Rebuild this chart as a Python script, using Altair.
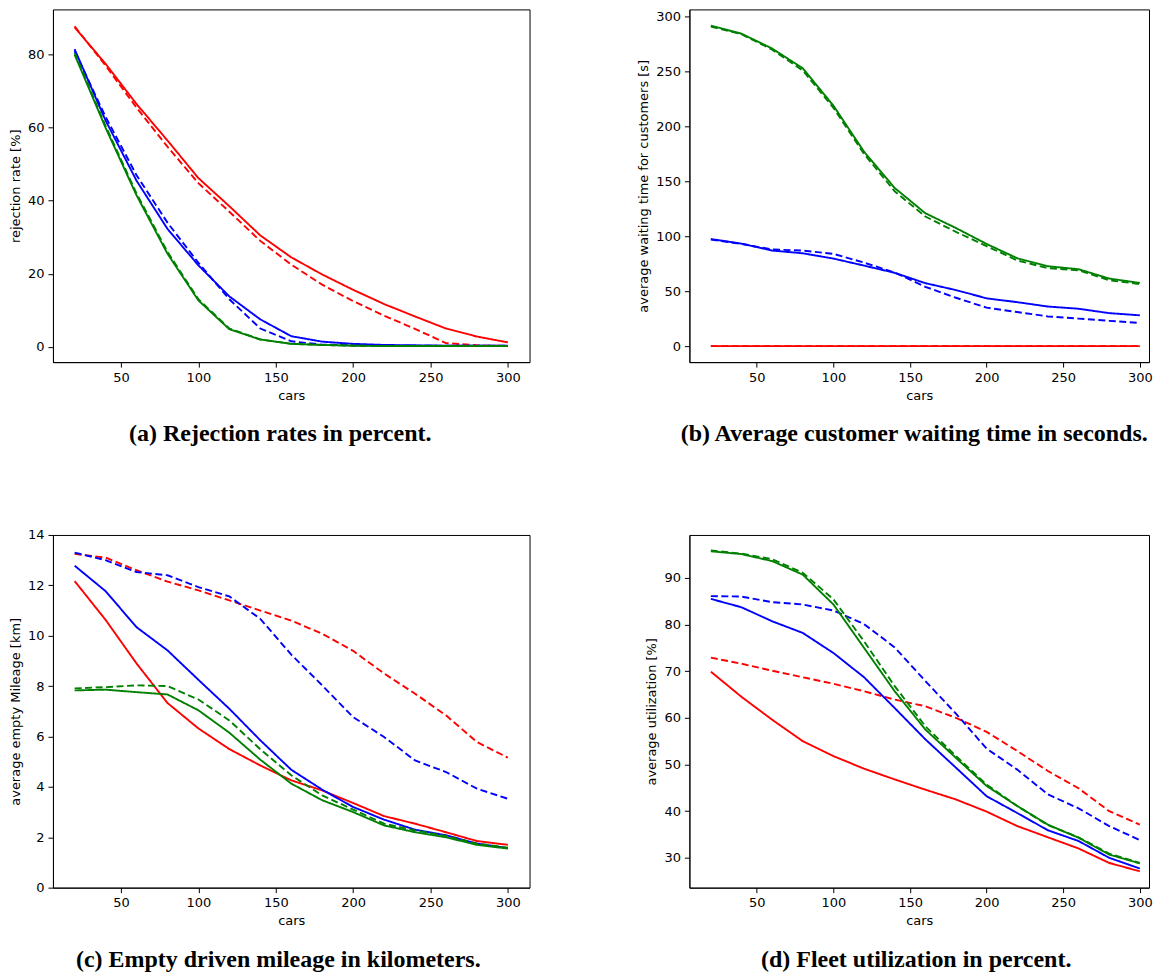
import altair as alt
import pandas as pd

cars = [20, 40, 60, 80, 100, 120, 140, 160, 180, 200, 220, 240, 260, 280, 300]
series_names = ["red", "blue", "green"]
series_colors = ["#ff0000", "#0000ff", "#008000"]
x_ticks = [50, 100, 150, 200, 250, 300]

# (a) rejection rate [%]
rej_red = [87.5, 77.5, 66.5, 56.5, 46.2, 38.5, 30.5, 24.5, 19.8, 15.6, 11.7, 8.3, 5.0, 2.8, 1.2]
rej_red_dash = [87.8, 77.0, 65.5, 54.8, 44.8, 37.0, 29.0, 22.5, 17.0, 12.5, 8.5, 4.9, 1.0, 0.4, 0.2]
rej_blue = [81.5, 62.0, 45.5, 32.3, 22.3, 13.8, 7.5, 2.9, 1.4, 0.8, 0.5, 0.4, 0.3, 0.3, 0.3]
rej_blue_dash = [81.0, 63.0, 47.0, 34.0, 23.0, 13.0, 5.0, 1.5, 0.6, 0.4, 0.3, 0.3, 0.3, 0.3, 0.3]
rej_green = [80.0, 60.0, 41.5, 25.5, 12.7, 4.8, 2.0, 0.8, 0.5, 0.3, 0.2, 0.2, 0.2, 0.2, 0.2]
rej_green_dash = [80.5, 60.5, 42.0, 26.0, 13.0, 5.0, 2.0, 0.8, 0.5, 0.3, 0.2, 0.2, 0.2, 0.2, 0.2]

# (b) average waiting time [s]
wait_red = [0, 0, 0, 0, 0, 0, 0, 0, 0, 0, 0, 0, 0, 0, 0]
wait_red_dash = [0, 0, 0, 0, 0, 0, 0, 0, 0, 0, 0, 0, 0, 0, 0]
wait_blue = [97.5, 93.3, 87.0, 84.5, 79.7, 73.3, 66.7, 57.3, 51.0, 43.5, 40.0, 36.0, 34.0, 30.0, 28.0]
wait_blue_dash = [97.0, 93.0, 88.0, 87.0, 84.0, 76.0, 67.0, 54.0, 44.0, 35.0, 31.0, 27.0, 25.0, 23.0, 21.0]
wait_green = [291.8, 284.5, 271.0, 253.0, 219.0, 177.0, 144.0, 121.0, 107.5, 93.0, 80.0, 72.7, 70.0, 61.5, 57.5]
wait_green_dash = [291.0, 284.0, 270.0, 251.0, 217.0, 175.0, 141.0, 118.0, 104.0, 91.0, 78.0, 71.0, 69.0, 60.0, 56.5]

# (c) empty mileage [km]
emp_red = [12.17, 10.63, 8.9, 7.33, 6.32, 5.5, 4.85, 4.26, 3.86, 3.36, 2.84, 2.54, 2.2, 1.85, 1.7]
emp_red_dash = [13.25, 13.1, 12.6, 12.15, 11.8, 11.4, 11.0, 10.6, 10.08, 9.4, 8.5, 7.7, 6.84, 5.78, 5.16]
emp_blue = [12.78, 11.77, 10.34, 9.42, 8.25, 7.1, 5.85, 4.68, 3.89, 3.2, 2.7, 2.3, 2.08, 1.75, 1.57]
emp_blue_dash = [13.3, 13.0, 12.53, 12.4, 11.93, 11.56, 10.67, 9.25, 8.03, 6.77, 5.98, 5.05, 4.59, 3.93, 3.53]
emp_green = [7.83, 7.86, 7.76, 7.67, 7.04, 6.15, 5.08, 4.13, 3.47, 3.0, 2.47, 2.2, 2.0, 1.7, 1.55]
emp_green_dash = [7.91, 7.96, 8.03, 8.0, 7.47, 6.64, 5.49, 4.46, 3.66, 3.1, 2.54, 2.27, 2.05, 1.75, 1.59]

# (d) utilization [%]
util_red = [69.9, 64.5, 59.6, 55.0, 51.8, 49.1, 46.8, 44.6, 42.5, 39.9, 36.8, 34.4, 32.0, 28.9, 27.1]
util_red_dash = [72.9, 71.6, 70.1, 68.7, 67.3, 65.7, 63.9, 62.5, 60.0, 57.0, 52.9, 48.6, 44.9, 40.0, 37.1]
util_blue = [85.5, 83.7, 80.7, 78.2, 73.9, 68.7, 62.1, 55.4, 49.3, 43.2, 39.6, 35.9, 33.6, 30.0, 27.7]
util_blue_dash = [86.1, 86.0, 84.8, 84.3, 83.0, 80.1, 75.1, 67.9, 60.9, 53.4, 48.9, 43.6, 40.6, 36.8, 33.8]
util_green = [95.7, 95.1, 93.6, 90.7, 84.3, 75.0, 65.7, 57.5, 51.4, 45.4, 41.1, 37.1, 34.3, 30.7, 28.8]
util_green_dash = [95.9, 95.2, 94.0, 91.1, 85.4, 76.4, 66.8, 58.2, 51.8, 45.7, 41.1, 37.0, 34.4, 30.9, 28.9]


def make_df(red, red_d, blue, blue_d, green, green_d):
    rows = []
    groups = [("red", "solid", red), ("red", "dashed", red_d),
              ("blue", "solid", blue), ("blue", "dashed", blue_d),
              ("green", "solid", green), ("green", "dashed", green_d)]
    for name, style, vals in groups:
        for c, v in zip(cars, vals):
            rows.append({"cars": c, "value": v, "series": name, "style": style})
    return pd.DataFrame(rows)


def panel(df, ytitle, ydomain, yticks, xdomain, width, caption, dx):
    return alt.Chart(df).mark_line(strokeWidth=1.9, clip=True).encode(
        x=alt.X("cars:Q", scale=alt.Scale(domain=xdomain, nice=False, zero=False),
                axis=alt.Axis(values=x_ticks, title="cars", format="d")),
        y=alt.Y("value:Q", scale=alt.Scale(domain=ydomain, nice=False, zero=False),
                axis=alt.Axis(values=yticks, title=ytitle, format="d")),
        color=alt.Color("series:N", scale=alt.Scale(domain=series_names, range=series_colors), legend=None),
        strokeDash=alt.StrokeDash("style:N", scale=alt.Scale(domain=["solid", "dashed"], range=[[1, 0], [7, 3.5]]), legend=None),
    ).properties(
        width=width, height=353,
        title=alt.TitleParams(caption, orient="bottom", anchor="middle", font="Liberation Serif",
                              fontSize=24, fontWeight="bold", color="black", offset=20, dx=dx),
    )


pa = panel(make_df(rej_red, rej_red_dash, rej_blue, rej_blue_dash, rej_green, rej_green_dash),
           "rejection rate [%]", [-4.2, 92.4], [0, 20, 40, 60, 80], [6, 314], 477,
           "(a) Rejection rates in percent.", -11)
pb = panel(make_df(wait_red, wait_red_dash, wait_blue, wait_blue_dash, wait_green, wait_green_dash),
           "average waiting time for customers [s]", [-14.6, 306.6], [0, 50, 100, 150, 200, 250, 300], [6, 306], 460,
           "(b) Average customer waiting time in seconds.", -5)
pc = panel(make_df(emp_red, emp_red_dash, emp_blue, emp_blue_dash, emp_green, emp_green_dash),
           "average empty Mileage [km]", [0, 14], [0, 2, 4, 6, 8, 10, 12, 14], [6, 314], 477,
           "(c) Empty driven mileage in kilometers.", -13)
pd_ = panel(make_df(util_red, util_red_dash, util_blue, util_blue_dash, util_green, util_green_dash),
            "average utilization [%]", [23.6, 99.2], [30, 40, 50, 60, 70, 80, 90], [6, 306], 460,
            "(d) Fleet utilization in percent.", -3)

chart = alt.concat(pa, pb, pc, pd_, columns=2, spacing={"row": 173, "column": 160}, bounds="flush").properties(
    padding={"left": 0, "top": 0, "right": 0, "bottom": 0}
).configure_view(
    stroke="black", strokeWidth=1
).configure_axis(
    grid=False, domainColor="black", domainWidth=1, tickColor="black", tickWidth=1, tickSize=5,
    labelPadding=4, labelFont="DejaVu Sans", labelFontSize=13, labelColor="black",
    titleFont="DejaVu Sans", titleFontSize=13, titleFontWeight="normal", titleColor="black",
    titlePadding=5,
)

chart.save("out.html", embed_options={"renderer": "svg", "actions": False})
